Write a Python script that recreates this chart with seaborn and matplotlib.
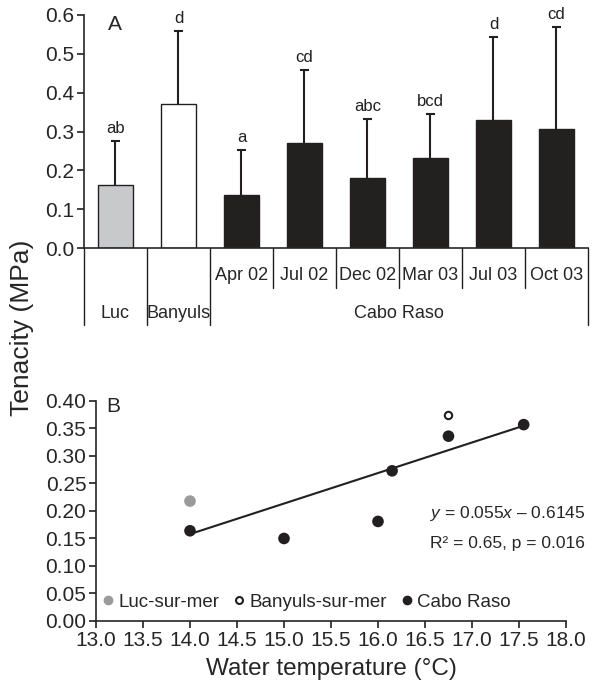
import matplotlib
matplotlib.use("Agg")
import matplotlib.pyplot as plt
import matplotlib.transforms as mtransforms
from matplotlib.lines import Line2D
import seaborn as sns
import pandas as pd

# DATA - panel A (tenacity per site / date)
cats = ["Luc", "Banyuls", "Apr 02", "Jul 02", "Dec 02", "Mar 03", "Jul 03", "Oct 03"]
means = [0.162, 0.371, 0.137, 0.271, 0.180, 0.231, 0.329, 0.307]
sds = [0.114, 0.188, 0.115, 0.187, 0.152, 0.114, 0.214, 0.262]
letters = ["ab", "d", "a", "cd", "abc", "bcd", "d", "cd"]
groups = ["Luc", "Banyuls", "Cabo Raso"]

# DATA - panel B (tenacity vs water temperature)
luc_temp = [14.0]
luc_ten = [0.218]
ban_temp = [16.75]
ban_ten = [0.374]
cabo_temp = [14.0, 15.0, 16.0, 16.15, 16.75, 17.55]
cabo_ten = [0.164, 0.150, 0.181, 0.273, 0.336, 0.357]
fit_x = [14.0, 17.55]
fit_y = [0.158, 0.355]

BLACK = "#231f20"
GRAY = "#c8c9cb"

sns.set_style("ticks")
plt.rcParams["font.family"] = ["Liberation Sans", "DejaVu Sans"]
plt.rcParams["mathtext.fontset"] = "custom"
plt.rcParams["mathtext.rm"] = "Liberation Sans"
plt.rcParams["mathtext.it"] = "Liberation Sans:italic"

fig = plt.figure(figsize=(6.03, 6.88), dpi=100)
axA = fig.add_axes([0.1393, 0.6395, 0.8358, 0.3387])
axB = fig.add_axes([0.1592, 0.0974, 0.7794, 0.3198])

# 1. PANEL A - BARS

bar_colors = [GRAY, "white"] + [BLACK] * 6
dfA = pd.DataFrame({"cat": cats, "mean": means})
sns.barplot(data=dfA, x="cat", y="mean", hue="cat", palette=bar_colors,
            edgecolor=BLACK, linewidth=1.0, width=0.57, legend=False, ax=axA)

# upper-only error bars
xs = list(range(len(cats)))
tops = [m + s for m, s in zip(means, sds)]
axA.vlines(xs, means, tops, color=BLACK, lw=1.5, zorder=1)
axA.hlines(tops, [x - 0.075 for x in xs], [x + 0.075 for x in xs], color=BLACK, lw=1.5, zorder=1)
for i, (t, lab) in enumerate(zip(tops, letters)):
    axA.text(i, t + 0.012, lab, ha="center", va="bottom", fontsize=12, color=BLACK)

axA.set_xlim(-0.5, 7.5)
axA.set_ylim(0, 0.6)
axA.set_yticks([0.0, 0.1, 0.2, 0.3, 0.4, 0.5, 0.6])
axA.set_yticklabels(["0.0", "0.1", "0.2", "0.3", "0.4", "0.5", "0.6"])
axA.set_xticks([])
axA.set_xlabel("")
axA.set_ylabel("")
axA.tick_params(axis="y", labelsize=15, length=5, width=1.2, color=BLACK, pad=2)
sns.despine(ax=axA)
axA.spines["left"].set_linewidth(1.2)
axA.spines["bottom"].set_linewidth(1.2)
axA.text(0.062, 0.96, "A", transform=axA.transAxes, fontsize=15, ha="center", va="center")

# category table under the axis
trans = mtransforms.blended_transform_factory(axA.transData, axA.transAxes)
for xb in [-0.5, 0.5, 1.5, 7.5]:
    axA.plot([xb, xb], [0, -0.33], transform=trans, color=BLACK, lw=1.0, clip_on=False)
for xb in [2.5, 3.5, 4.5, 5.5, 6.5]:
    axA.plot([xb, xb], [0, -0.172], transform=trans, color=BLACK, lw=1.0, clip_on=False)
for i in range(2, 8):
    axA.text(i, -0.12, cats[i], transform=trans, ha="center", va="center", fontsize=13)
for xg, g in zip([0, 1, 4.5], groups):
    axA.text(xg, -0.279, g, transform=trans, ha="center", va="center", fontsize=13)

# 2. PANEL B - SCATTER

sns.scatterplot(x=luc_temp, y=luc_ten, color="#9a9a9a", s=70, edgecolor="none", ax=axB, zorder=3)
sns.scatterplot(x=ban_temp, y=ban_ten, color="white", s=28, edgecolor=BLACK, linewidth=1.5, ax=axB, zorder=3)
sns.scatterplot(x=cabo_temp, y=cabo_ten, color=BLACK, s=70, edgecolor="none", ax=axB, zorder=3)
sns.lineplot(x=fit_x, y=fit_y, color=BLACK, lw=1.5, ax=axB, zorder=2)

axB.set_xlim(13.0, 18.0)
axB.set_ylim(0.0, 0.40)
axB.set_xticks([13.0 + 0.5 * k for k in range(11)])
axB.set_xticklabels([f"{13.0 + 0.5 * k:.1f}" for k in range(11)])
axB.set_yticks([0.05 * k for k in range(9)])
axB.set_yticklabels([f"{0.05 * k:.2f}" for k in range(9)])
axB.tick_params(labelsize=15, length=5, width=1.2, color=BLACK, pad=2)
sns.despine(ax=axB)
axB.spines["left"].set_linewidth(1.2)
axB.spines["bottom"].set_linewidth(1.2)
axB.set_xlabel("Water temperature (°C)", fontsize=17.5, labelpad=6)
axB.text(0.036, 0.975, "B", transform=axB.transAxes, fontsize=15, ha="center", va="center")

axB.text(16.55, 0.195, "$y$ = 0.055$x$ \u2013 0.6145", fontsize=12.5, ha="left", va="center")
axB.text(16.55, 0.140, "R\u00b2 = 0.65, p = 0.016", fontsize=12.5, ha="left", va="center")

handles = [
    Line2D([], [], ls="none", marker="o", ms=7, color="#9a9a9a", mec="none"),
    Line2D([], [], ls="none", marker="o", ms=5, mfc="white", mec=BLACK, mew=1.5),
    Line2D([], [], ls="none", marker="o", ms=7, color=BLACK, mec="none"),
]
axB.legend(handles, ["Luc-sur-mer", "Banyuls-sur-mer", "Cabo Raso"], ncol=3,
           loc="center left", bbox_to_anchor=(-0.01, 0.086), frameon=False,
           fontsize=13.5, handletextpad=0.05, columnspacing=0.55, handlelength=1.0,
           borderaxespad=0)

fig.text(0.036, 1 - 328 / 688, "Tenacity (MPa)", rotation=90, fontsize=19,
         ha="center", va="center")

plt.savefig("out.png", dpi=100)
plt.close()
